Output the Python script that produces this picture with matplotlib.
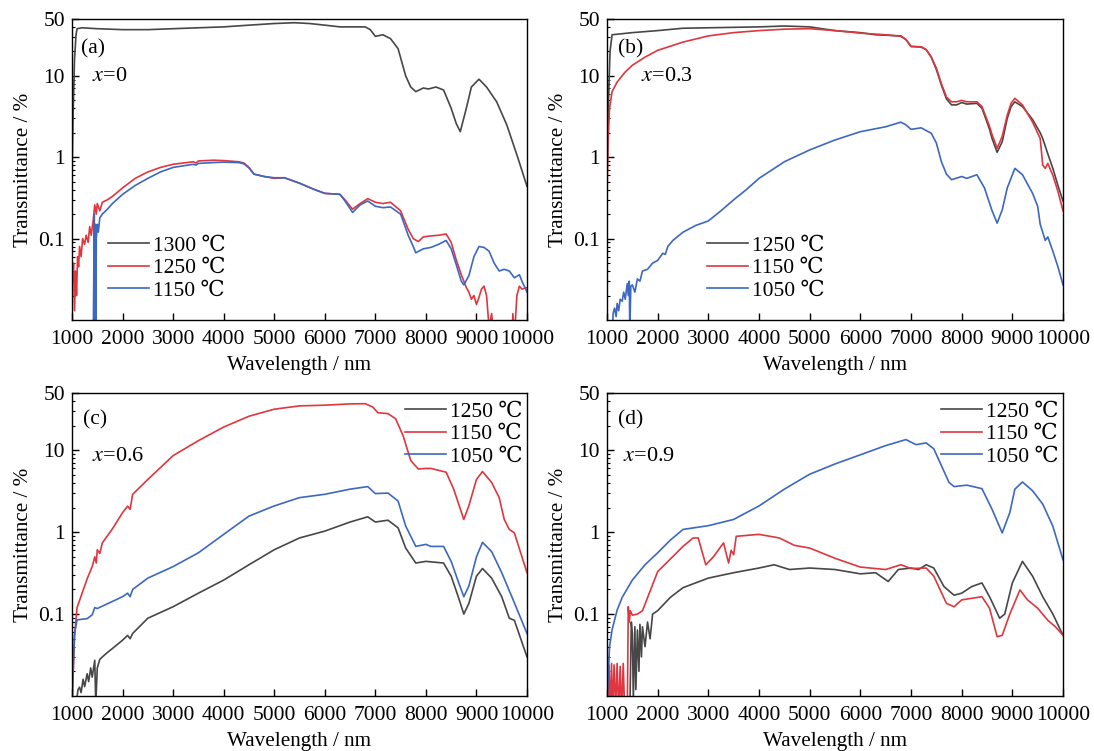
import matplotlib
matplotlib.use("Agg")
import matplotlib.pyplot as plt
from matplotlib.ticker import FixedLocator, LogLocator, NullFormatter, NullLocator

plt.rcParams['font.family'] = ['Liberation Serif', 'DejaVu Serif', 'Noto Sans CJK SC']
plt.rcParams['mathtext.fontset'] = 'stix'

# ---------------- data ----------------
# (a) x=0
a_wl_1300 = [1000, 1020, 1050, 1080, 1100, 1200, 1500, 2000, 2500, 3000, 3500, 4000, 4500, 5000, 5400,
             5700, 6000, 6300, 6600, 6800, 6900, 7000, 7150, 7300, 7450, 7600, 7700, 7800, 7950, 8050,
             8200, 8350, 8500, 8600, 8680, 8800, 8900, 9050, 9200, 9400, 9600, 9800, 10000]
a_t_1300 = [0.5, 3.0, 16, 32, 38, 39, 38, 37, 37, 38, 39, 40, 42, 44, 45,
            44, 42, 40, 40, 40, 37, 30.6, 32, 28.7, 21.6, 10, 7.3, 6.4, 7.1, 6.9,
            7.3, 6.7, 4.0, 2.6, 2.06, 4.0, 7.3, 9.1, 7.3, 4.8, 2.5, 1.07, 0.44]

a_wl_1250 = [1000, 1010, 1030, 1050, 1070, 1090, 1110, 1130, 1150, 1180, 1210, 1250, 1280, 1320, 1350,
             1380, 1420, 1450, 1480, 1500, 1550, 1600, 1700, 1800, 2000, 2250, 2500, 2750, 3000, 3400,
             3450, 3500, 3800, 4000, 4300, 4400, 4500, 4600, 4800, 5000, 5200, 5500, 5800, 6000, 6300,
             6400, 6550, 6700, 6850, 7000, 7150, 7300, 7500, 7650, 7750, 7850, 7950, 8100, 8250, 8400,
             8500, 8600, 8700, 8750, 8800, 8850, 8900, 8950, 9000, 9050, 9100, 9150, 9200, 9250, 9300,
             9350, 9500, 9700, 9720, 9750, 9800, 9850, 9900, 10000]
a_t_1250 = [0.07, 0.03, 0.05, 0.013, 0.04, 0.02, 0.06, 0.045, 0.08, 0.06, 0.1, 0.085, 0.11, 0.09, 0.14,
            0.11, 0.17, 0.26, 0.2, 0.27, 0.22, 0.28, 0.3, 0.33, 0.42, 0.55, 0.66, 0.75, 0.82, 0.88,
            0.85, 0.9, 0.92, 0.91, 0.88, 0.85, 0.75, 0.62, 0.58, 0.55, 0.56, 0.48, 0.4, 0.36, 0.35,
            0.3, 0.23, 0.27, 0.31, 0.28, 0.27, 0.28, 0.22, 0.13, 0.1, 0.092, 0.105, 0.108, 0.11, 0.114,
            0.09, 0.055, 0.036, 0.03, 0.025, 0.022, 0.018, 0.02, 0.0155, 0.019, 0.024, 0.026, 0.02, 0.008, 0.012,
            0.006, 0.005, 0.005, 0.012, 0.006, 0.02, 0.026, 0.024, 0.025]

a_wl_1150 = [1420, 1440, 1450, 1460, 1470, 1480, 1500, 1520, 1550, 1600, 1700, 1800, 2000, 2250, 2500,
             2750, 3000, 3400, 3450, 3500, 3800, 4000, 4300, 4400, 4500, 4600, 4800, 5000, 5200, 5500,
             5800, 6000, 6300, 6400, 6550, 6700, 6850, 7000, 7150, 7300, 7500, 7650, 7750, 7800, 7950,
             8100, 8250, 8400, 8500, 8600, 8700, 8750, 8850, 8950, 9050, 9150, 9250, 9350, 9450, 9550,
             9650, 9750, 9850, 9900, 10000]
a_t_1150 = [0.005, 0.2, 0.01, 0.15, 0.005, 0.1, 0.15, 0.12, 0.18, 0.2, 0.23, 0.27, 0.35, 0.45, 0.55,
            0.66, 0.75, 0.82, 0.8, 0.84, 0.86, 0.87, 0.86, 0.83, 0.74, 0.62, 0.58, 0.56, 0.56, 0.48,
            0.4, 0.36, 0.35, 0.29, 0.21, 0.26, 0.29, 0.25, 0.24, 0.245, 0.2, 0.11, 0.08, 0.067, 0.075,
            0.078, 0.085, 0.095, 0.075, 0.048, 0.03, 0.027, 0.035, 0.06, 0.08, 0.078, 0.07, 0.05, 0.04, 0.042,
            0.04, 0.033, 0.036, 0.03, 0.022]

# (b) x=0.3
b_wl_1250 = [1000, 1030, 1060, 1100, 1500, 2000, 2500, 3000, 4000, 4500, 5000, 5500, 6000, 6300, 6800,
             6900, 7000, 7200, 7300, 7400, 7500, 7600, 7700, 7800, 7900, 8000, 8100, 8300, 8400, 8450,
             8550, 8600, 8700, 8800, 8900, 8975, 9050, 9200, 9400, 9550, 9600, 9700, 9800, 9900, 10000]
b_t_1250 = [0.5, 5, 20, 32, 34, 36, 38.5, 39, 40, 41, 40, 36, 34, 32, 31,
            28, 23, 22.6, 21, 17, 12, 7.7, 5.2, 4.4, 4.4, 4.7, 4.5, 4.6, 4.0, 3.3,
            2.2, 1.7, 1.15, 1.55, 3.0, 4.2, 4.8, 4.2, 2.9, 2.0, 1.7, 1.1, 0.73, 0.45, 0.29]

b_wl_1150 = [1000, 1020, 1050, 1100, 1200, 1350, 1500, 1750, 2000, 2500, 3000, 3500, 4000, 4500, 5000,
             5500, 6000, 6500, 6800, 6900, 7000, 7200, 7300, 7400, 7500, 7600, 7700, 7800, 7900, 8000,
             8100, 8300, 8400, 8450, 8550, 8600, 8700, 8800, 8900, 8975, 9050, 9200, 9400, 9550, 9600,
             9650, 9700, 9800, 9900, 10000]
b_t_1150 = [0.3, 1.5, 4, 6.4, 8.4, 11, 13.5, 17, 20.6, 26, 31, 34, 36, 37.5, 38,
            36, 33.5, 32, 30.6, 28, 23, 22.8, 21, 17, 12.5, 8, 5.5, 4.8, 4.8, 5.0,
            4.8, 4.8, 4.2, 3.5, 2.4, 1.9, 1.29, 1.8, 3.3, 4.6, 5.3, 4.4, 2.7, 1.7, 0.8,
            0.73, 0.84, 0.6, 0.38, 0.22]

b_wl_1050 = [1100, 1120, 1150, 1180, 1200, 1230, 1260, 1300, 1330, 1360, 1400, 1420, 1440, 1450, 1470,
             1500, 1550, 1600, 1650, 1700, 1800, 1900, 2000, 2100, 2150, 2200, 2300, 2500, 2750, 3000,
             3250, 3500, 3750, 4000, 4500, 5000, 5500, 6000, 6500, 6800, 6900, 7000, 7200, 7400, 7500,
             7600, 7700, 7800, 8000, 8100, 8300, 8450, 8600, 8700, 8800, 8900, 9050, 9200, 9400, 9500,
             9550, 9650, 9700, 9800, 9900, 10000]
b_t_1050 = [0.005, 0.012, 0.014, 0.011, 0.016, 0.013, 0.018, 0.017, 0.022, 0.018, 0.028, 0.02, 0.03, 0.007, 0.026,
            0.027, 0.022, 0.032, 0.03, 0.04, 0.042, 0.05, 0.054, 0.066, 0.064, 0.08, 0.095, 0.12, 0.145, 0.165,
            0.22, 0.3, 0.4, 0.55, 0.88, 1.23, 1.63, 2.06, 2.37, 2.7, 2.5, 2.2, 2.3, 1.97, 1.5,
            0.88, 0.62, 0.53, 0.58, 0.55, 0.61, 0.42, 0.22, 0.155, 0.225, 0.42, 0.73, 0.61, 0.36, 0.25,
            0.15, 0.095, 0.105, 0.07, 0.045, 0.027]

# (c) x=0.6
c_wl_1250 = [1080, 1120, 1150, 1180, 1220, 1250, 1300, 1330, 1370, 1400, 1450, 1470, 1500, 1550, 1600,
             1700, 1800, 2000, 2100, 2150, 2200, 2500, 3000, 3500, 4000, 4500, 5000, 5500, 6000, 6500,
             6850, 7000, 7250, 7450, 7600, 7800, 8000, 8350, 8500, 8650, 8750, 8850, 9000, 9120, 9300,
             9500, 9650, 9750, 10000]
c_t_1250 = [0.008, 0.012, 0.0128, 0.011, 0.016, 0.013, 0.0187, 0.015, 0.022, 0.017, 0.0273, 0.008, 0.022, 0.028, 0.03,
            0.034, 0.038, 0.048, 0.055, 0.05, 0.058, 0.089, 0.123, 0.18, 0.26, 0.4, 0.61, 0.85, 1.03, 1.33,
            1.54, 1.33, 1.4, 1.13, 0.64, 0.42, 0.44, 0.42, 0.29, 0.156, 0.1, 0.135, 0.29, 0.36, 0.275,
            0.163, 0.089, 0.084, 0.03]

c_wl_1150 = [1000, 1050, 1100, 1200, 1300, 1400, 1450, 1480, 1500, 1550, 1600, 1800, 2000, 2100, 2150,
             2200, 2500, 3000, 3500, 4000, 4500, 5000, 5500, 6000, 6500, 6800, 6950, 7050, 7250, 7400,
             7550, 7700, 7850, 8000, 8100, 8400, 8550, 8750, 8850, 9000, 9120, 9300, 9450, 9550, 9650,
             9750, 10000]
c_t_1150 = [0.008, 0.053, 0.12, 0.18, 0.27, 0.38, 0.5, 0.42, 0.61, 0.55, 0.74, 1.1, 1.73, 2.08, 1.9,
            2.9, 4.4, 8.6, 13.1, 19.2, 26, 31.7, 34.8, 35.5, 36.8, 37, 33.7, 28.7, 28, 24.3,
            15, 7.5, 5.9, 6.0, 6.0, 5.4, 3.35, 1.43, 2.1, 4.4, 5.5, 4.05, 2.64, 1.43, 1.08,
            0.98, 0.32]

c_wl_1050 = [1000, 1050, 1100, 1300, 1400, 1450, 1500, 2000, 2100, 2150, 2200, 2500, 3000, 3500, 4000,
             4500, 5000, 5500, 6000, 6500, 6850, 7000, 7250, 7450, 7600, 7800, 8000, 8100, 8350, 8500,
             8650, 8750, 8850, 9000, 9120, 9300, 9500, 9700, 10000]
c_t_1050 = [0.008, 0.058, 0.085, 0.088, 0.098, 0.12, 0.117, 0.163, 0.18, 0.163, 0.2, 0.275, 0.38, 0.56, 0.94,
            1.57, 2.09, 2.64, 2.9, 3.35, 3.6, 2.96, 3.0, 2.4, 1.19, 0.67, 0.71, 0.67, 0.67, 0.44,
            0.24, 0.163, 0.22, 0.5, 0.75, 0.58, 0.32, 0.163, 0.058]

# (d) x=0.9
d_wl_1250 = [1450, 1480, 1500, 1520, 1550, 1570, 1600, 1630, 1650, 1680, 1700, 1750, 1800, 1850, 1900,
             2000, 2250, 2500, 3000, 3500, 4000, 4300, 4600, 5000, 5500, 6000, 6300, 6550, 6750, 7000,
             7150, 7300, 7450, 7650, 7850, 8000, 8200, 8400, 8550, 8750, 8850, 9000, 9200, 9400, 9600,
             9800, 10000]
d_t_1250 = [0.006, 0.08, 0.058, 0.009, 0.07, 0.012, 0.064, 0.02, 0.075, 0.03, 0.07, 0.04, 0.08, 0.05, 0.1,
            0.11, 0.16, 0.21, 0.275, 0.32, 0.365, 0.4, 0.35, 0.365, 0.35, 0.31, 0.32, 0.25, 0.35, 0.365,
            0.35, 0.4, 0.365, 0.217, 0.17, 0.18, 0.217, 0.24, 0.163, 0.089, 0.1, 0.24, 0.44, 0.29, 0.163,
            0.1, 0.055]

d_wl_1150 = [1000, 1020, 1040, 1060, 1090, 1110, 1140, 1170, 1200, 1230, 1260, 1290, 1320, 1350, 1400,
             1420, 1440, 1460, 1500, 1600, 1700, 2000, 2500, 2700, 2800, 2950, 3100, 3300, 3400, 3450,
             3500, 3550, 4000, 4400, 4700, 5000, 5500, 6000, 6500, 6800, 7000, 7300, 7450, 7700, 7850,
             8000, 8400, 8550, 8700, 8800, 8950, 9150, 9300, 9500, 9700, 9850, 10000]
d_t_1150 = [0.025, 0.006, 0.024, 0.006, 0.025, 0.006, 0.024, 0.007, 0.025, 0.006, 0.023, 0.006, 0.025, 0.006, 0.006,
            0.123, 0.08, 0.11, 0.097, 0.1, 0.11, 0.33, 0.67, 0.85, 0.85, 0.4, 0.5, 0.74, 0.42, 0.6,
            0.53, 0.89, 0.94, 0.85, 0.69, 0.64, 0.48, 0.375, 0.35, 0.4, 0.36, 0.365, 0.29, 0.135, 0.123,
            0.149, 0.163, 0.118, 0.053, 0.055, 0.1, 0.197, 0.149, 0.118, 0.084, 0.07, 0.055]

d_wl_1050 = [1000, 1050, 1100, 1200, 1300, 1500, 1750, 2000, 2250, 2500, 3000, 3500, 4000, 4500, 5000,
             5500, 6000, 6500, 6900, 7100, 7300, 7450, 7600, 7750, 7850, 8100, 8400, 8600, 8800, 8950,
             9050, 9200, 9400, 9600, 9800, 10000]
d_t_1050 = [0.008, 0.04, 0.064, 0.112, 0.16, 0.26, 0.4, 0.56, 0.8, 1.08, 1.2, 1.43, 2.09, 3.35, 5.1,
            6.8, 8.8, 11.4, 13.5, 11.7, 12.3, 10.4, 6.5, 4.05, 3.6, 3.75, 3.4, 1.9, 0.98, 1.73,
            3.35, 4.1, 3.2, 2.2, 1.18, 0.46]

panel_tags = ['(a)', '(b)', '(c)', '(d)']
panel_x = ['$x$=0', '$x$=0.3', '$x$=0.6', '$x$=0.9']
y_ticks = [0.1, 1, 10, 50]
y_ticklabels = ['0.1', '1', '10', '50']
x_ticks = list(range(1000, 10001, 1000))

BLACK = '#474747'
RED = '#e0363f'
BLUE = '#3c68c2'

series = [
    [(a_wl_1300, a_t_1300, '1300 ℃', BLACK), (a_wl_1250, a_t_1250, '1250 ℃', RED),
     (a_wl_1150, a_t_1150, '1150 ℃', BLUE)],
    [(b_wl_1250, b_t_1250, '1250 ℃', BLACK), (b_wl_1150, b_t_1150, '1150 ℃', RED),
     (b_wl_1050, b_t_1050, '1050 ℃', BLUE)],
    [(c_wl_1250, c_t_1250, '1250 ℃', BLACK), (c_wl_1150, c_t_1150, '1150 ℃', RED),
     (c_wl_1050, c_t_1050, '1050 ℃', BLUE)],
    [(d_wl_1250, d_t_1250, '1250 ℃', BLACK), (d_wl_1150, d_t_1150, '1150 ℃', RED),
     (d_wl_1050, d_t_1050, '1050 ℃', BLUE)],
]

# axes boxes in pixels: left, top, right, bottom (figure 1094 x 751)
W, H = 1094, 751
boxes = [(72, 19, 527, 320), (607, 19, 1063, 320), (72, 393, 527, 696), (607, 393, 1063, 696)]
legend_loc = [('lower left', (0.06, 0.035)), ('lower left', (0.2, 0.035)),
              ('upper right', (1.01, 1.0)), ('upper right', (1.01, 1.0))]
tag_pos = [(0.02, 0.90), (0.025, 0.90), (0.025, 0.91), (0.025, 0.91)]
x_pos = [(0.045, 0.81), (0.075, 0.81), (0.045, 0.79), (0.035, 0.79)]

FS = 15.5

fig = plt.figure(figsize=(W / 100, H / 100), dpi=100)

for i in range(4):
    l, t, r, b = boxes[i]
    ax = fig.add_axes([l / W, 1 - b / H, (r - l) / W, (b - t) / H])
    for wl, tr, lab, col in series[i]:
        ax.plot(wl, tr, color=col, lw=1.2, label=lab)

    ax.set_yscale('log')
    ax.set_xlim(1000, 10000)
    ax.set_ylim(0.01, 50)
    ax.yaxis.set_major_locator(FixedLocator(y_ticks))
    ax.set_yticklabels(y_ticklabels)
    ax.yaxis.set_minor_locator(LogLocator(base=10, subs=range(2, 10)))
    ax.yaxis.set_minor_formatter(NullFormatter())
    ax.set_xticks(x_ticks)
    ax.xaxis.set_minor_locator(NullLocator())
    ax.tick_params(which='major', direction='in', length=5, width=1, labelsize=FS)
    ax.tick_params(axis='x', which='major', pad=7)
    ax.tick_params(axis='y', which='major', pad=5)
    ax.tick_params(which='minor', direction='in', length=2.5, width=0.8)
    for sp in ax.spines.values():
        sp.set_linewidth(1.0)

    ax.set_xlabel('Wavelength / nm', fontsize=15.2, labelpad=5)
    ax.set_ylabel('Transmittance / %', fontsize=15.2, labelpad=4)

    ax.text(tag_pos[i][0], tag_pos[i][1], panel_tags[i], transform=ax.transAxes, fontsize=FS,
            va='center', ha='left')
    ax.text(x_pos[i][0], x_pos[i][1], panel_x[i], transform=ax.transAxes, fontsize=FS + 0.5,
            va='center', ha='left')

    loc, anchor = legend_loc[i]
    ax.legend(loc=loc, bbox_to_anchor=anchor, frameon=False, fontsize=FS, handlelength=1.9,
              handletextpad=0.2, labelspacing=0.12, borderpad=0.2, borderaxespad=0.2)

fig.savefig('out.png', dpi=100)
